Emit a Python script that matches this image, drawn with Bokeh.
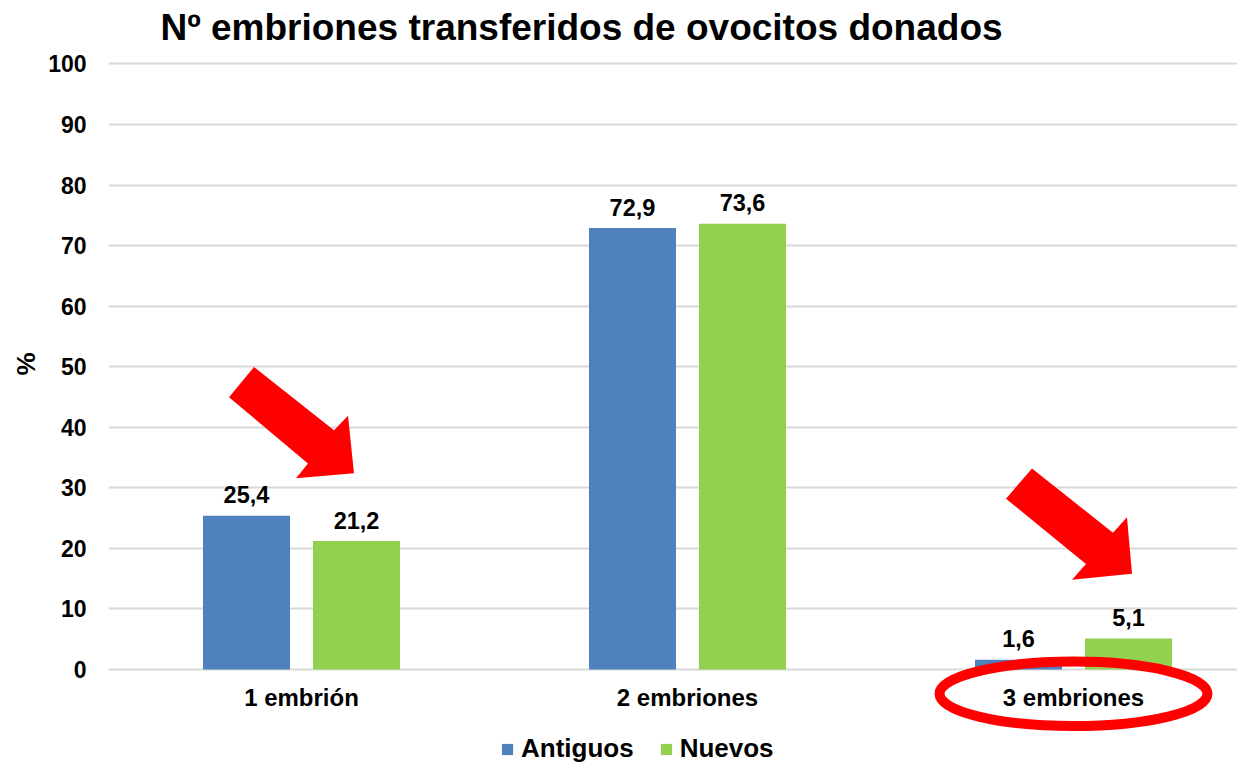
import math
from bokeh.plotting import figure
from bokeh.models import Range1d, FixedTicker, Legend, LegendItem, Title
from bokeh.core.properties import value
from bokeh.embed import file_html
from bokeh.resources import INLINE

# ---------------- data ----------------
categories = ["1 embrión", "2 embriones", "3 embriones"]
series_names = ["Antiguos", "Nuevos"]
antiguos = [25.4, 72.9, 1.6]
nuevos = [21.2, 73.6, 5.1]
y_ticks = list(range(0, 101, 10))
title_text = "Nº embriones transferidos de ovocitos donados"
y_label = "%"

# ---------------- annotation shapes (red arrows / ellipse, data units) ----------------
arrow1_x = [0.3122, 0.3769, 0.5842, 0.6205, 0.6360, 0.4858, 0.5168]
arrow1_y = [44.96, 49.96, 39.48, 41.90, 32.39, 31.59, 34.00]
arrow2_x = [2.3251, 2.3925, 2.6023, 2.6386, 2.6516, 2.4961, 2.5324]
arrow2_y = [28.20, 33.20, 22.56, 25.14, 15.79, 14.83, 17.41]
ellipse_cat = 2
ellipse_y = -4.03
ellipse_w = 0.694
ellipse_h = 10.64

BLUE = "#4f81bd"
GREEN = "#92d050"
RED = "#ff0000"
FONT = value("Liberation Sans")

xc = [i + 0.5 for i in range(len(categories))]
bar_w = 0.2254
off = 0.1425
xa = [x - off for x in xc]
xn = [x + off for x in xc]

p = figure(width=1237, height=764,
           x_range=Range1d(0, 2.9249), y_range=Range1d(-15.70, 102.71),
           x_axis_type=None, output_backend="svg", toolbar_location=None,
           min_border_left=108, min_border_right=0, min_border_top=47, min_border_bottom=0)
p.outline_line_color = None
p.background_fill_color = "white"
p.border_fill_color = "white"

# title
p.title.text = title_text
p.title.text_font = "Liberation Sans"
p.title.text_font_size = "37px"
p.title.text_font_style = "bold"
p.title.text_color = "black"
p.title.align = "left"
p.title.offset = 52
p.title.standoff = 0

# y axis
yax = p.yaxis[0]
yax.ticker = FixedTicker(ticks=y_ticks)
yax.axis_line_color = None
yax.major_tick_line_color = None
yax.minor_tick_line_color = None
yax.major_label_text_font = "Liberation Sans"
yax.major_label_text_font_size = "23px"
yax.major_label_text_font_style = "bold"
yax.major_label_text_color = "black"
yax.major_label_standoff = 16

# y axis title ("%"), placed along the 0-100 span
p.add_layout(Title(text=y_label, align="left", offset=389, standoff=10,
                   text_font="Liberation Sans", text_font_size="26px",
                   text_font_style="bold", text_color="black"), "left")

p.ygrid.ticker = FixedTicker(ticks=y_ticks)
p.ygrid.grid_line_color = "#d9d9d9"
p.ygrid.grid_line_width = 2
p.xgrid.visible = False

# bars
r1 = p.vbar(x=xa, top=antiguos, bottom=0, width=bar_w, fill_color=BLUE, line_color=None)
r2 = p.vbar(x=xn, top=nuevos, bottom=0, width=bar_w, fill_color=GREEN, line_color=None)

# value labels
fmt = lambda v: f"{v:.1f}".replace(".", ",")
for xs, vals in ((xa, antiguos), (xn, nuevos)):
    p.text(x=xs, y=vals, text=[fmt(v) for v in vals], text_align="center",
           text_baseline="alphabetic", y_offset=-21, text_font=FONT,
           text_font_size="23.5px", text_font_style="bold", text_color="black")

# category labels
p.text(x=xc, y=[0] * len(xc), text=categories, text_align="center",
       text_baseline="middle", y_offset=28, text_font=FONT,
       text_font_size="24px", text_font_style="bold", text_color="black")

# red annotations
p.patch(arrow1_x, arrow1_y, fill_color=RED, line_color=None)
p.patch(arrow2_x, arrow2_y, fill_color=RED, line_color=None)
p.ellipse(x=[xc[ellipse_cat]], y=[ellipse_y], width=ellipse_w, height=ellipse_h,
          fill_color=None, line_color=RED, line_width=10)

# legend
legend = Legend(items=[LegendItem(label=series_names[0], renderers=[r1]),
                       LegendItem(label=series_names[1], renderers=[r2])],
                orientation="horizontal", location=(392, 0),
                glyph_width=14, glyph_height=14, label_standoff=7, spacing=25,
                padding=0, margin=0, border_line_color=None, background_fill_alpha=0,
                label_text_font="Liberation Sans", label_text_font_size="26px",
                label_text_font_style="bold", label_text_color="black")
p.add_layout(legend, "center")

open("out.html", "w").write(file_html(p, INLINE))
